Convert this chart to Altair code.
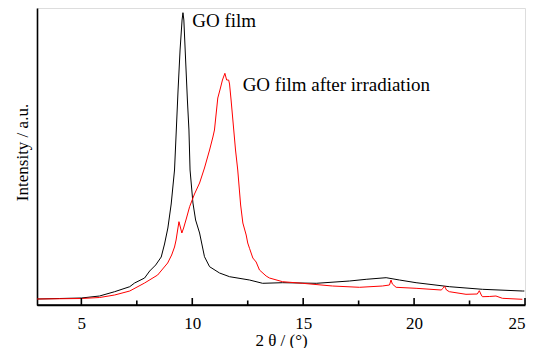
import altair as alt
import pandas as pd

# GO film (black)
go_x = [3.0, 4.02, 5.0, 5.82, 6.5, 7.18, 7.4, 7.85, 8.08, 8.35, 8.6, 8.75, 8.9, 9.05, 9.2, 9.28,
        9.36, 9.45, 9.54, 9.58, 9.62, 9.7, 9.78, 9.85, 9.9, 10.03, 10.15, 10.33, 10.55, 10.78,
        11.23, 11.68, 12.58, 13.17, 14.07, 15.59, 17.09, 17.84, 18.74, 19.34, 20.09, 21.59,
        23.08, 24.88, 24.97]
go_y = [5, 5.5, 6, 8, 12.3, 17.3, 21, 26, 33, 39, 47, 60, 76, 100, 134, 174,
        214, 254, 284, 291.3, 284, 244, 204, 174, 134, 101, 84, 71, 47.3, 37.3,
        31, 27.3, 24, 20.7, 21.3, 20.7, 23, 24.7, 26.3, 24, 21.3, 17.3,
        14.7, 13, 13]

# GO film after irradiation (red)
ir_x = [3.0, 5.0, 5.82, 6.5, 7.18, 7.85, 8.44, 8.89, 9.07, 9.2, 9.27, 9.34, 9.4, 9.45, 9.53,
        9.61, 9.74, 9.88, 10.1, 10.33, 10.55, 10.78, 10.93, 11.0, 11.15, 11.27, 11.36, 11.47,
        11.55, 11.64, 11.68, 11.75, 11.83, 11.95, 12.05, 12.18, 12.28, 12.43, 12.5, 12.58,
        12.73, 12.88, 13.03, 13.33, 13.48, 14.07, 14.97, 16.32, 17.54, 18.57, 18.89, 18.96,
        19.02, 19.19, 20.09, 21.22, 21.32, 21.37, 21.46, 21.59, 22.34, 22.85, 22.94, 23.03,
        23.08, 23.39, 23.69, 23.98, 24.88]
ir_y = [5, 5.5, 6.5, 9, 13, 21, 29, 41, 49, 57, 64, 74, 82.3, 78, 71,
        76, 86, 97.3, 110, 121, 136, 154, 167, 174, 206, 216, 224, 230.7,
        224, 224, 220, 204, 184, 154, 134, 99, 81, 69, 61, 55.7,
        46, 42, 34, 28, 26, 22.3, 20.7, 18, 16.7, 18, 19, 24,
        20, 16.7, 15.7, 14, 16, 18, 14, 12.3, 9.7, 10, 13.3, 9,
        7.3, 7.5, 8, 5.7, 4.7]

labels = ["GO film", "GO film after irradiation"]
label_x = [10.0, 12.27]
label_y = [283, 219]

major_ticks = [5, 10, 15, 20, 25]
minor_ticks = [7.5, 12.5, 17.5, 22.5]
tick_len = [7, 7, 7, 7, 7, 4.5, 4.5, 4.5, 4.5]

W, H = 488, 297
FONT = "Liberation Serif"

df = pd.concat([
    pd.DataFrame({"x": go_x, "y": go_y, "s": "GO film", "o": range(len(go_x))}),
    pd.DataFrame({"x": ir_x, "y": ir_y, "s": "irr", "o": range(len(ir_x))}),
])

xs = alt.Scale(domain=[3, 25], nice=False, zero=False)
ys = alt.Scale(domain=[-1, 296], nice=False, zero=False)

x_axis = alt.Axis(title="2 θ / (°)", values=major_ticks, ticks=False,
                  labelPadding=10, domainWidth=1.6, domainColor="black",
                  grid=False, labelFont=FONT, labelFontSize=17, labelColor="black",
                  titleFont=FONT, titleFontSize=17, titleFontWeight="normal",
                  titleColor="black", titlePadding=1)
y_axis = alt.Axis(title="Intensity / a.u.", labels=False, ticks=False, grid=False,
                  domainWidth=1.6, domainColor="black", titleFont=FONT,
                  titleFontSize=17, titleFontWeight="normal", titleColor="black",
                  titlePadding=6, titleY=144)

lines = alt.Chart(df).mark_line(strokeWidth=1).encode(
    x=alt.X("x:Q", scale=xs, axis=x_axis),
    y=alt.Y("y:Q", scale=ys, axis=y_axis),
    color=alt.Color("s:N", scale=alt.Scale(domain=["GO film", "irr"], range=["#000000", "#ff0000"]),
                    legend=None),
    order="o:Q",
    detail="s:N",
)

text = alt.Chart(pd.DataFrame({"t": labels, "x": label_x, "y": label_y})).mark_text(
    align="left", baseline="middle", font=FONT, fontSize=19, color="black"
).encode(x=alt.X("x:Q", scale=xs, axis=x_axis), y=alt.Y("y:Q", scale=ys, axis=y_axis), text="t:N")

# inward tick marks on the bottom axis
tick_df = pd.DataFrame({"v": major_ticks + minor_ticks, "len": tick_len})
tick_df["base"] = -1
ticks = alt.Chart(tick_df).transform_calculate(top="datum.base + datum.len").mark_rule(
    color="black", strokeWidth=1.6
).encode(
    x=alt.X("v:Q", scale=xs, axis=x_axis),
    y=alt.Y("base:Q", scale=ys, axis=y_axis),
    y2="top:Q",
)

# bottom axis line
base_line = alt.Chart(pd.DataFrame({"b": [-1]})).mark_rule(color="black", strokeWidth=1.6).encode(
    y=alt.Y("b:Q", scale=ys, axis=y_axis)
)

chart = alt.layer(lines, text, ticks, base_line).properties(
    width=W, height=H,
    autosize=alt.AutoSizeParams(type="none"),
    padding={"left": 29, "top": 0, "right": 10, "bottom": 43},
).configure_view(stroke=None).configure(background="white", font=FONT)

chart.save("out.html", embed_options={"renderer": "svg", "actions": False})
